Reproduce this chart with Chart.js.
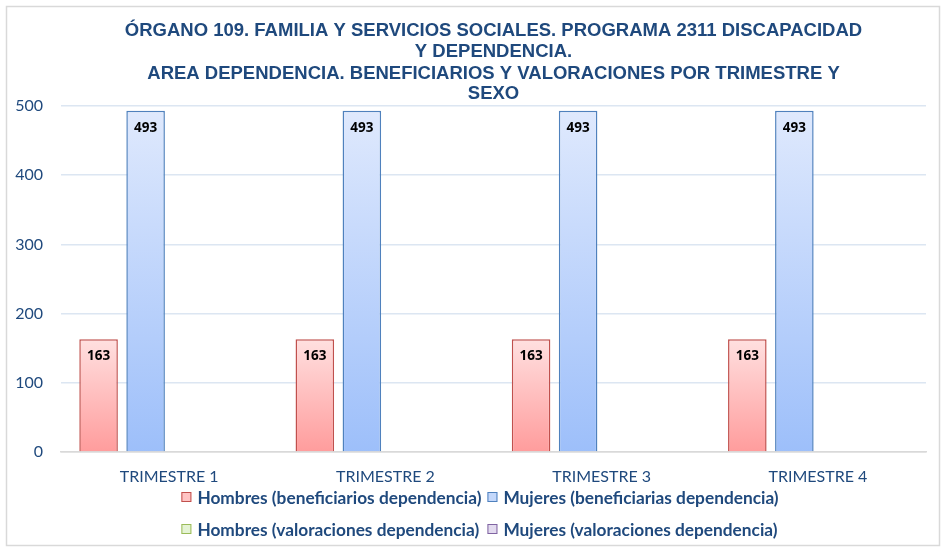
<!DOCTYPE html>
<html>
<head>
<meta charset="utf-8">
<script src="https://cdn.jsdelivr.net/npm/chart.js@4.4.1/dist/chart.umd.min.js"></script>
<style>
  html, body { margin: 0; padding: 0; background: #fff; }
  #wrap { width: 943px; height: 549px; position: relative; }
</style>
</head>
<body>
<div id="wrap"><canvas id="trimestreChart"></canvas></div>
<script>
const titleLines = [
    'ÓRGANO 109. FAMILIA Y SERVICIOS SOCIALES. PROGRAMA 2311 DISCAPACIDAD',
    'Y DEPENDENCIA.',
    'AREA DEPENDENCIA. BENEFICIARIOS Y VALORACIONES POR TRIMESTRE Y',
    'SEXO'
];
const trimestres = ['TRIMESTRE 1', 'TRIMESTRE 2', 'TRIMESTRE 3', 'TRIMESTRE 4'];
const hombresBeneficiarios = [163, 163, 163, 163];
const mujeresBeneficiarias = [493, 493, 493, 493];
const hombresValoraciones = [null, null, null, null];
const mujeresValoraciones = [null, null, null, null];
const yTicks = [0, 100, 200, 300, 400, 500];

const textBlue = '#1f497d';

// vertical gradient running from the top of each bar down to the zero line
function barGradient(top, bottom) {
    return function (context) {
        const chart = context.chart;
        const y = chart.scales && chart.scales.y;
        if (!chart.chartArea || !y || context.raw == null) return bottom;
        const y0 = y.getPixelForValue(context.raw);
        const y1 = y.getPixelForValue(0);
        if (!isFinite(y0) || y0 === y1) return bottom;
        const g = chart.ctx.createLinearGradient(0, y0, 0, y1);
        g.addColorStop(0, top);
        g.addColorStop(1, bottom);
        return g;
    };
}

const frameAndTitle = {
    id: 'frameAndTitle',
    beforeDraw(chart) {
        const ctx = chart.ctx;
        ctx.save();
        ctx.fillStyle = '#ffffff';
        ctx.fillRect(0, 0, chart.width, chart.height);
        ctx.strokeStyle = '#d9d9d9';
        ctx.lineWidth = 1.5;
        ctx.strokeRect(6.5, 6.5, chart.width - 10, chart.height - 10);
        ctx.restore();
    },
    afterDraw(chart) {
        const ctx = chart.ctx;
        const area = chart.chartArea;
        const cx = (area.left + area.right) / 2;
        ctx.save();
        ctx.fillStyle = textBlue;
        ctx.font = 'bold 18.5px "Liberation Sans", Arial, sans-serif';
        ctx.textAlign = 'center';
        ctx.textBaseline = 'middle';
        const ys = [31, 52, 74, 94];
        titleLines.forEach((t, i) => ctx.fillText(t, cx, ys[i]));
        ctx.restore();
    }
};

const barValues = {
    id: 'barValues',
    afterDatasetsDraw(chart) {
        const ctx = chart.ctx;
        ctx.save();
        ctx.fillStyle = '#000000';
        ctx.font = 'bold 13.5px "Open Sans", "Liberation Sans", sans-serif';
        ctx.textAlign = 'center';
        ctx.textBaseline = 'middle';
        chart.data.datasets.forEach((ds, i) => {
            const meta = chart.getDatasetMeta(i);
            meta.data.forEach((bar, j) => {
                const v = ds.data[j];
                if (v == null) return;
                ctx.fillText(String(v), bar.x, bar.y + 17);
            });
        });
        ctx.restore();
    }
};

// two-row legend with columns lined up under each other
const gridLegend = {
    id: 'gridLegend',
    afterDraw(chart) {
        const ctx = chart.ctx;
        const sets = chart.data.datasets;
        ctx.save();
        ctx.font = 'bold 17.3px Lato, "Open Sans", sans-serif';
        ctx.textBaseline = 'middle';
        const box = 10, gap = 6, colGap = 6;
        const w0 = Math.max(ctx.measureText(sets[0].label).width, ctx.measureText(sets[2].label).width);
        const w1 = Math.max(ctx.measureText(sets[1].label).width, ctx.measureText(sets[3].label).width);
        const total = box + gap + w0 + colGap + box + gap + w1;
        const x0 = 480 - total / 2;
        const x1 = x0 + box + gap + w0 + colGap;
        const rows = [497, 529];
        sets.forEach((ds, i) => {
            const x = i % 2 === 0 ? x0 : x1;
            const y = rows[Math.floor(i / 2)];
            ctx.fillStyle = ds.legendFill;
            ctx.fillRect(x, y - box / 2, box, box);
            ctx.strokeStyle = ds.borderColor;
            ctx.lineWidth = 1;
            ctx.strokeRect(x + 0.5, y - box / 2 + 0.5, box - 1, box - 1);
            ctx.fillStyle = textBlue;
            ctx.fillText(ds.label, x + box + gap, y + 1);
        });
        ctx.restore();
    }
};

new Chart(document.getElementById('trimestreChart').getContext('2d'), {
    type: 'bar',
    data: {
        labels: trimestres,
        datasets: [{
                label: 'Hombres (beneficiarios dependencia)',
                data: hombresBeneficiarios,
                backgroundColor: barGradient('#ffe0e0', '#ff9c9c'),
                legendFill: '#ffc4c4',
                borderColor: '#c0504d',
                borderWidth: 1.5,
            },
            {
                label: 'Mujeres (beneficiarias dependencia)',
                data: mujeresBeneficiarias,
                backgroundColor: barGradient('#dfe9fd', '#9dbffa'),
                legendFill: '#c4d8fb',
                borderColor: '#4f81bd',
                borderWidth: 1.5,
            },
            {
                label: 'Hombres (valoraciones dependencia)',
                data: hombresValoraciones,
                backgroundColor: '#e4f3d4',
                legendFill: '#e4f3d4',
                borderColor: '#9bbb59',
                borderWidth: 1.5,
            },
            {
                label: 'Mujeres (valoraciones dependencia)',
                data: mujeresValoraciones,
                backgroundColor: '#e3dbef',
                legendFill: '#e3dbef',
                borderColor: '#8064a2',
                borderWidth: 1.5,
            }
        ]
    },
    options: {
        responsive: true,
        maintainAspectRatio: false,
        animation: false,
        categoryPercentage: 0.87,
        barPercentage: 0.82,
        layout: { padding: { left: 6, right: 17, top: 106, bottom: 0 } },
        plugins: {
            legend: { display: false },
            title: { display: false },
            tooltip: { enabled: false }
        },
        scales: {
            x: {
                grid: { display: false, drawTicks: false },
                border: { display: true, color: '#d9d9d9', width: 1.5 },
                ticks: {
                    color: textBlue,
                    padding: 15,
                    font: { family: 'Lato, "Open Sans", sans-serif', size: 16 }
                },
                afterFit(scale) { scale.height = 97; }
            },
            y: {
                min: 0,
                max: 500,
                afterBuildTicks(scale) { scale.ticks = yTicks.map(v => ({ value: v })); },
                grid: {
                    color: ctx => ctx.tick && ctx.tick.value === 0 ? '#d9d9d9' : '#dce6f2',
                    lineWidth: 1.5,
                    drawTicks: false
                },
                border: { display: false },
                ticks: {
                    color: textBlue,
                    padding: 18,
                    font: { family: 'Lato, "Open Sans", sans-serif', size: 16 }
                },
                afterFit(scale) { scale.width = 55; }
            }
        }
    },
    plugins: [frameAndTitle, barValues, gridLegend]
});
</script>
</body>
</html>
